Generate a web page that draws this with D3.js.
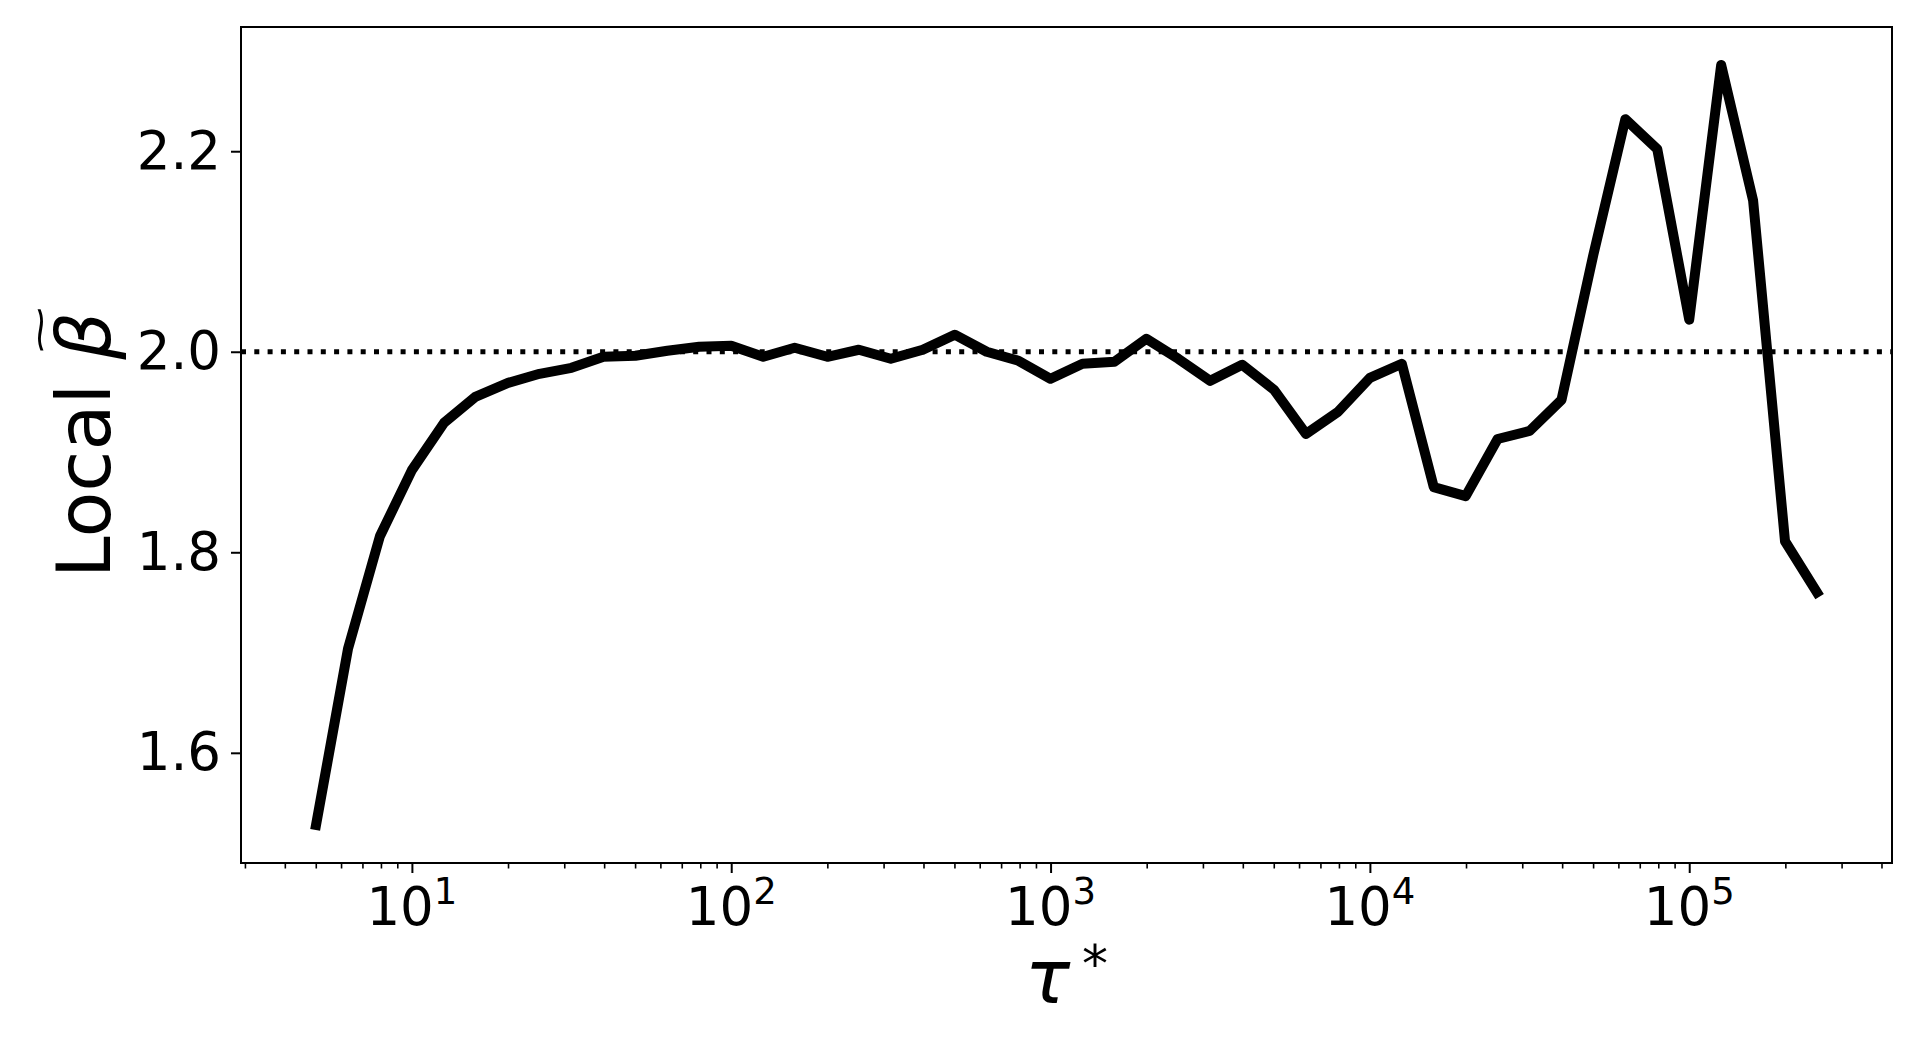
<!DOCTYPE html>
<html>
<head>
<meta charset="utf-8">
<script src="https://cdn.jsdelivr.net/npm/d3@7"></script>
<style>
  body { margin: 0; background: #fff; }
  svg { display: block; font-family: "DejaVu Sans", sans-serif; }
</style>
</head>
<body>
<div id="chart"></div>
<script>
// tau* values (log spaced, 10 per decade)
const tau = [5.01, 6.31, 7.94, 10, 12.6, 15.8, 20, 25.1, 31.6, 39.8,
  50.1, 63.1, 79.4, 100, 126, 158, 200, 251, 316, 398,
  501, 631, 794, 1000, 1259, 1585, 1995, 2512, 3162, 3981,
  5012, 6310, 7943, 10000, 12589, 15849, 19953, 25119, 31623, 39811,
  50119, 63096, 79433, 100000, 125893, 158489, 199526, 251189];

// local beta
const beta = [1.528, 1.704, 1.816, 1.882, 1.929, 1.955, 1.969, 1.978, 1.984, 1.995,
  1.996, 2.001, 2.005, 2.006, 1.995, 2.004, 1.995, 2.002, 1.993, 2.002,
  2.017, 2.000, 1.991, 1.973, 1.988, 1.990, 2.013, 1.993, 1.971, 1.987,
  1.962, 1.918, 1.940, 1.974, 1.988, 1.865, 1.856, 1.913, 1.921, 1.952,
  2.097, 2.232, 2.202, 2.032, 2.286, 2.151, 1.811, 1.760];

const yTicks = [1.6, 1.8, 2.0, 2.2];
const xTickExp = [1, 2, 3, 4, 5];
const refLevel = 2.0;

const W = 1920, H = 1056;
const margin = { top: 27, right: 28, bottom: 193, left: 241 };
const width = W - margin.left - margin.right;
const height = H - margin.top - margin.bottom;

const data = tau.map((t, i) => ({ t: t, b: beta[i] }));

// matplotlib-like 5% margins
const lx = d3.extent(tau, d => Math.log10(d));
const px = (lx[1] - lx[0]) * 0.05;
const ly = d3.extent(beta);
const py = (ly[1] - ly[0]) * 0.05;

const x = d3.scaleLog()
  .domain([Math.pow(10, lx[0] - px), Math.pow(10, lx[1] + px)])
  .range([0, width]);
const y = d3.scaleLinear()
  .domain([ly[0] - py, ly[1] + py])
  .range([height, 0]);

const svg = d3.select("#chart").append("svg")
  .attr("width", W)
  .attr("height", H)
  .append("g")
  .attr("transform", `translate(${margin.left},${margin.top})`);

// minor ticks on x
const minor = [];
for (let e = 0; e <= 5; e++) {
  for (let m = 2; m <= 9; m++) {
    const v = m * Math.pow(10, e);
    if (v >= x.domain()[0] && v <= x.domain()[1]) minor.push(v);
  }
}

svg.append("g")
  .attr("transform", `translate(0,${height})`)
  .call(d3.axisBottom(x).tickValues(minor).tickSize(5.5).tickFormat(""))
  .call(g => g.select(".domain").remove())
  .call(g => g.selectAll("line").attr("stroke", "#000").attr("stroke-width", 1.6));

const xAxis = svg.append("g")
  .attr("transform", `translate(0,${height})`)
  .call(d3.axisBottom(x).tickValues(xTickExp.map(e => Math.pow(10, e))).tickSize(10).tickFormat(""));
xAxis.select(".domain").remove();
xAxis.selectAll("line").attr("stroke", "#000").attr("stroke-width", 2);

// 10^n labels
const xl = svg.append("g").attr("transform", `translate(0,${height})`);
xTickExp.forEach(e => {
  const t = xl.append("text")
    .attr("x", x(Math.pow(10, e)))
    .attr("y", 62)
    .attr("text-anchor", "middle")
    .attr("font-size", 53)
    .attr("fill", "#000");
  t.append("tspan").text("10");
  t.append("tspan").attr("font-size", 37).attr("dy", -21).text(e);
});

const yAxis = svg.append("g")
  .call(d3.axisLeft(y).tickValues(yTicks).tickSize(10).tickPadding(10).tickFormat(d3.format(".1f")));
yAxis.select(".domain").remove();
yAxis.selectAll("line").attr("stroke", "#000").attr("stroke-width", 2);
yAxis.selectAll("text")
  .attr("font-size", 53)
  .attr("font-family", "DejaVu Sans")
  .attr("fill", "#000");

// reference level
svg.append("line")
  .attr("x1", 0)
  .attr("x2", width)
  .attr("y1", y(refLevel))
  .attr("y2", y(refLevel))
  .attr("stroke", "#000")
  .attr("stroke-width", 5)
  .attr("stroke-dasharray", "5,8.3");

const line = d3.line()
  .x(d => x(d.t))
  .y(d => y(d.b));

svg.append("path")
  .datum(data)
  .attr("d", line)
  .attr("fill", "none")
  .attr("stroke", "#000")
  .attr("stroke-width", 10)
  .attr("stroke-linejoin", "round")
  .attr("stroke-linecap", "square");

// frame
svg.append("rect")
  .attr("x", 0).attr("y", 0)
  .attr("width", width).attr("height", height)
  .attr("fill", "none")
  .attr("stroke", "#000")
  .attr("stroke-width", 2);

// axis labels
const xlab = svg.append("text")
  .attr("transform", `translate(${width / 2},${H - margin.top - 53})`)
  .attr("text-anchor", "middle")
  .attr("font-size", 75)
  .attr("fill", "#000");
xlab.append("tspan").attr("font-style", "italic").text("τ");
xlab.append("tspan").attr("font-size", 52).attr("dx", 12).attr("dy", -21).text("*");

const ylabG = svg.append("g")
  .attr("transform", `translate(${110 - margin.left},${height / 2}) rotate(-90)`);
const ylab = ylabG.append("text")
  .attr("text-anchor", "middle")
  .attr("font-size", 75)
  .attr("fill", "#000");
ylab.append("tspan").text("Local ");
ylab.append("tspan").attr("font-style", "italic").text("β");

// tilde accent over beta
const bx = ylab.node().getExtentOfChar(6);
const cx = bx.x + bx.width / 2 + 6;
ylabG.append("text")
  .attr("transform", `translate(${cx},-70) scale(1,0.55)`)
  .attr("y", 0.335 * 66)
  .attr("text-anchor", "middle")
  .attr("font-size", 66)
  .attr("fill", "#000")
  .text("~");
</script>
</body>
</html>
